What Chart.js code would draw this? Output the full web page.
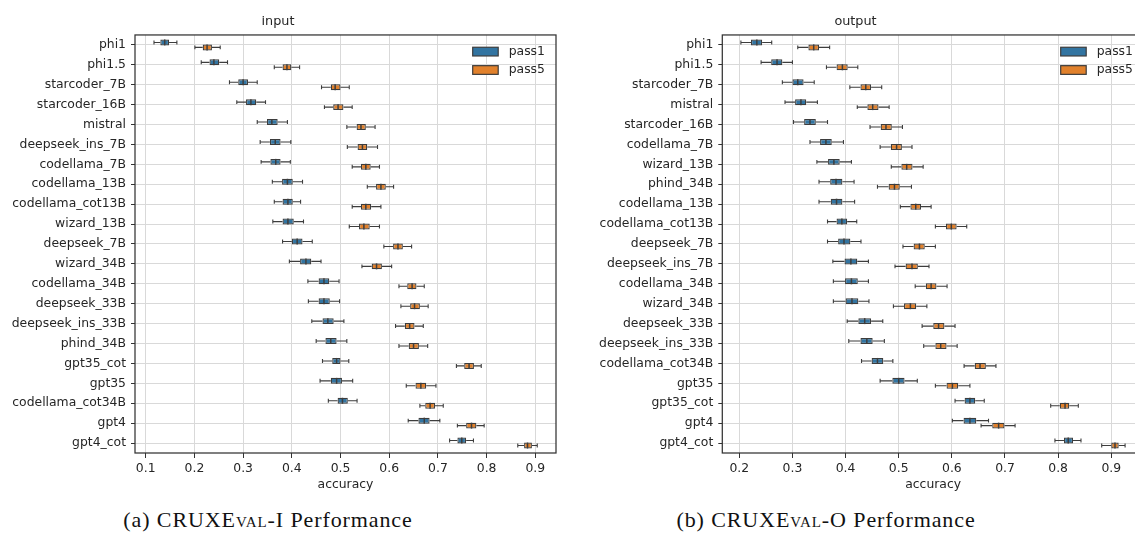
<!DOCTYPE html>
<html><head><meta charset="utf-8">
<script src="https://cdn.jsdelivr.net/npm/chart.js@4.4.0/dist/chart.umd.min.js"></script>
<style>
html,body{margin:0;padding:0;background:#fff;overflow:hidden;width:1135px;height:541px;position:relative;}
canvas{position:absolute;top:0;}
#c1{left:0}
#c2{left:567px}
.cap{position:absolute;top:507px;font-family:'Liberation Serif','DejaVu Serif',serif;font-size:22px;letter-spacing:0.9px;color:#111;white-space:nowrap;transform:translateX(-50%);}
.sc{font-variant:small-caps;}
</style></head><body>
<canvas id="c1" width="567" height="500"></canvas>
<canvas id="c2" width="580" height="500"></canvas>
<div class="cap" style="left:268px">(a) CRUXE<span class="sc">val</span>-I Performance</div>
<div class="cap" style="left:826px">(b) CRUXE<span class="sc">val</span>-O Performance</div>
<script>
// ---- data: each entry is [whiskerLow, q1, median, q3, whiskerHigh] ----
const seriesNames = ['pass1', 'pass5'];
const xTicks = [0.1, 0.2, 0.3, 0.4, 0.5, 0.6, 0.7, 0.8, 0.9];

const inputModels = ['phi1','phi1.5','starcoder_7B','starcoder_16B','mistral','deepseek_ins_7B','codellama_7B','codellama_13B','codellama_cot13B','wizard_13B','deepseek_7B','wizard_34B','codellama_34B','deepseek_33B','deepseek_ins_33B','phind_34B','gpt35_cot','gpt35','codellama_cot34B','gpt4','gpt4_cot'];
const inputPass1 = [
  [0.117,0.130,0.139,0.148,0.164],[0.214,0.231,0.240,0.251,0.268],[0.272,0.290,0.300,0.310,0.329],
  [0.287,0.306,0.316,0.327,0.346],[0.329,0.349,0.359,0.371,0.391],[0.335,0.355,0.366,0.377,0.398],
  [0.337,0.356,0.367,0.377,0.397],[0.360,0.380,0.391,0.402,0.422],[0.364,0.381,0.392,0.402,0.418],
  [0.361,0.381,0.392,0.404,0.424],[0.381,0.400,0.411,0.422,0.442],[0.395,0.417,0.429,0.440,0.460],
  [0.433,0.455,0.466,0.477,0.497],[0.434,0.455,0.466,0.478,0.498],[0.441,0.463,0.474,0.486,0.507],
  [0.450,0.469,0.480,0.492,0.513],[0.463,0.483,0.492,0.500,0.517],[0.458,0.480,0.492,0.503,0.525],
  [0.475,0.494,0.504,0.515,0.534],[0.639,0.660,0.672,0.683,0.704],[0.724,0.740,0.749,0.758,0.773]
];
const inputPass5 = [
  [0.201,0.217,0.226,0.236,0.253],[0.364,0.381,0.390,0.399,0.416],[0.461,0.480,0.489,0.500,0.518],
  [0.467,0.485,0.495,0.506,0.524],[0.513,0.533,0.542,0.552,0.571],[0.514,0.535,0.545,0.555,0.576],
  [0.524,0.542,0.552,0.562,0.580],[0.555,0.573,0.583,0.593,0.609],[0.524,0.542,0.552,0.563,0.583],
  [0.518,0.538,0.548,0.560,0.580],[0.589,0.608,0.618,0.628,0.646],[0.544,0.564,0.574,0.585,0.605],
  [0.620,0.637,0.647,0.656,0.672],[0.624,0.643,0.652,0.663,0.680],[0.613,0.632,0.642,0.652,0.670],
  [0.620,0.640,0.650,0.661,0.679],[0.738,0.754,0.764,0.774,0.789],[0.635,0.654,0.665,0.676,0.696],
  [0.663,0.674,0.684,0.694,0.711],[0.740,0.758,0.769,0.779,0.795],[0.864,0.877,0.884,0.893,0.904]
];

const outputModels = ['phi1','phi1.5','starcoder_7B','mistral','starcoder_16B','codellama_7B','wizard_13B','phind_34B','codellama_13B','codellama_cot13B','deepseek_7B','deepseek_ins_7B','codellama_34B','wizard_34B','deepseek_33B','deepseek_ins_33B','codellama_cot34B','gpt35','gpt35_cot','gpt4','gpt4_cot'];
const outputPass1 = [
  [0.203,0.222,0.233,0.243,0.261],[0.241,0.260,0.271,0.281,0.300],[0.281,0.300,0.310,0.321,0.341],
  [0.286,0.305,0.316,0.326,0.347],[0.302,0.322,0.333,0.344,0.366],[0.333,0.352,0.363,0.374,0.396],
  [0.346,0.367,0.378,0.389,0.411],[0.350,0.371,0.382,0.394,0.416],[0.350,0.372,0.383,0.394,0.417],
  [0.366,0.383,0.393,0.403,0.421],[0.366,0.386,0.397,0.409,0.429],[0.376,0.398,0.410,0.422,0.443],
  [0.377,0.399,0.411,0.423,0.443],[0.377,0.400,0.412,0.424,0.444],[0.403,0.424,0.436,0.448,0.470],
  [0.406,0.428,0.440,0.451,0.473],[0.430,0.449,0.460,0.471,0.489],[0.465,0.488,0.500,0.511,0.535],
  [0.606,0.624,0.634,0.644,0.661],[0.601,0.622,0.634,0.646,0.669],[0.794,0.811,0.819,0.828,0.843]
];
const outputPass5 = [
  [0.310,0.330,0.340,0.350,0.370],[0.364,0.383,0.394,0.404,0.423],[0.408,0.428,0.438,0.448,0.468],
  [0.422,0.441,0.451,0.462,0.482],[0.446,0.466,0.476,0.487,0.507],[0.465,0.485,0.496,0.506,0.525],
  [0.486,0.505,0.515,0.526,0.546],[0.460,0.481,0.492,0.502,0.524],[0.503,0.522,0.532,0.542,0.561],
  [0.569,0.589,0.599,0.609,0.628],[0.508,0.528,0.539,0.549,0.569],[0.493,0.513,0.525,0.536,0.557],
  [0.531,0.551,0.561,0.571,0.591],[0.490,0.510,0.522,0.533,0.553],[0.544,0.565,0.575,0.586,0.606],
  [0.547,0.569,0.579,0.590,0.610],[0.623,0.643,0.653,0.664,0.683],[0.569,0.590,0.601,0.612,0.634],
  [0.786,0.803,0.813,0.821,0.838],[0.655,0.676,0.688,0.699,0.719],[0.882,0.900,0.907,0.914,0.926]
];

// ---- styling ----
const COLORS = ['#3274a1', '#e1812c'];
const EDGE = '#3d3d3d';
const TEXT = '#262626';
const FONT = "'DejaVu Sans', sans-serif";

const boxPlugin = {
  id: 'boxWhiskers',
  afterDatasetsDraw(chart) {
    const ctx = chart.ctx, xs = chart.scales.x;
    ctx.save();
    chart.data.datasets.forEach((ds, i) => {
      const meta = chart.getDatasetMeta(i);
      meta.data.forEach((el, j) => {
        const st = ds.stats[j];
        const y = el.y, h = el.height;
        const pLo = xs.getPixelForValue(st[0]);
        const pQ1 = xs.getPixelForValue(st[1]);
        const pMed = xs.getPixelForValue(st[2]);
        const pQ3 = xs.getPixelForValue(st[3]);
        const pHi = xs.getPixelForValue(st[4]);
        ctx.strokeStyle = EDGE;
        ctx.lineWidth = 1.1;
        ctx.beginPath();
        ctx.moveTo(pLo, y); ctx.lineTo(pQ1, y);
        ctx.moveTo(pQ3, y); ctx.lineTo(pHi, y);
        const c = h * 0.33;
        ctx.moveTo(pLo, y - c); ctx.lineTo(pLo, y + c);
        ctx.moveTo(pHi, y - c); ctx.lineTo(pHi, y + c);
        ctx.stroke();
        ctx.lineWidth = 1.5;
        ctx.beginPath();
        ctx.moveTo(pMed, y - h / 2); ctx.lineTo(pMed, y + h / 2);
        ctx.stroke();
      });
    });
    ctx.restore();
  },
  afterDraw(chart) {
    const ctx = chart.ctx, a = chart.chartArea;
    ctx.save();
    ctx.strokeStyle = '#333333';
    ctx.lineWidth = 1.25;
    ctx.strokeRect(a.left, a.top, a.right - a.left, a.bottom - a.top);
    ctx.font = '12.4px ' + FONT;
    ctx.textBaseline = 'middle';
    ctx.textAlign = 'left';
    chart.data.datasets.forEach((ds, i) => {
      const rx = a.right - 83.3, ry = a.top + 12.3 + i * 18.4;
      ctx.fillStyle = COLORS[i];
      ctx.fillRect(rx, ry, 25.5, 8.7);
      ctx.strokeStyle = EDGE;
      ctx.lineWidth = 1.2;
      ctx.strokeRect(rx, ry, 25.5, 8.7);
      ctx.fillStyle = TEXT;
      ctx.fillText(ds.label, rx + 36, ry + 4.6);
    });
    ctx.restore();
  }
};

function makeChart(id, titleText, labels, p1, p5, xmin, xmax, yAxisWidth, padRight) {
  const sets = [p1, p5].map((s, i) => ({
    label: seriesNames[i],
    data: s.map(v => [v[1], v[3]]),
    stats: s,
    backgroundColor: COLORS[i],
    borderColor: EDGE,
    borderWidth: 1.25,
    borderSkipped: false,
    categoryPercentage: 0.5,
    barPercentage: 1.2
  }));
  return new Chart(document.getElementById(id), {
    type: 'bar',
    data: { labels, datasets: sets },
    plugins: [boxPlugin],
    options: {
      indexAxis: 'y',
      responsive: false,
      animation: false,
      devicePixelRatio: 1,
      layout: { padding: { left: 0, right: padRight, top: 0, bottom: 0 } },
      plugins: {
        legend: { display: false },
        tooltip: { enabled: false },
        title: {
          display: true, text: titleText, color: TEXT,
          font: { family: FONT, size: 12.8, weight: 'normal' },
          padding: { top: 14, bottom: 5.6 }
        }
      },
      scales: {
        x: {
          type: 'linear', min: xmin, max: xmax,
          afterBuildTicks: s => { s.ticks = xTicks.filter(v => v >= s.min && v <= s.max).map(v => ({ value: v })); },
          afterFit: s => { s.height = 47; },
          ticks: { color: TEXT, font: { family: FONT, size: 12.4 }, padding: 3, maxRotation: 0,
                   callback: v => Number(v).toFixed(1) },
          grid: { color: '#d9d9d9', lineWidth: 1, tickColor: '#333333', tickLength: 5, drawTicks: true },
          border: { display: false },
          title: { display: true, text: 'accuracy', color: TEXT, font: { family: FONT, size: 12.4 },
                   padding: { top: 0, bottom: 7.5 } }
        },
        y: {
          type: 'category', offset: true,
          afterFit: s => { s.width = yAxisWidth; },
          ticks: { color: TEXT, font: { family: FONT, size: 12.4 }, padding: 5, autoSkip: false },
          grid: { offset: false, color: '#d9d9d9', lineWidth: 1, tickColor: '#333333', tickLength: 4 },
          border: { display: false }
        }
      }
    }
  });
}

makeChart('c1', 'input', inputModels, inputPass1, inputPass5, 0.078, 0.9425, 135, 11);
makeChart('c2', 'output', outputModels, outputPass1, outputPass5, 0.168, 0.9616, 155.3, 3);
</script>
</body></html>
